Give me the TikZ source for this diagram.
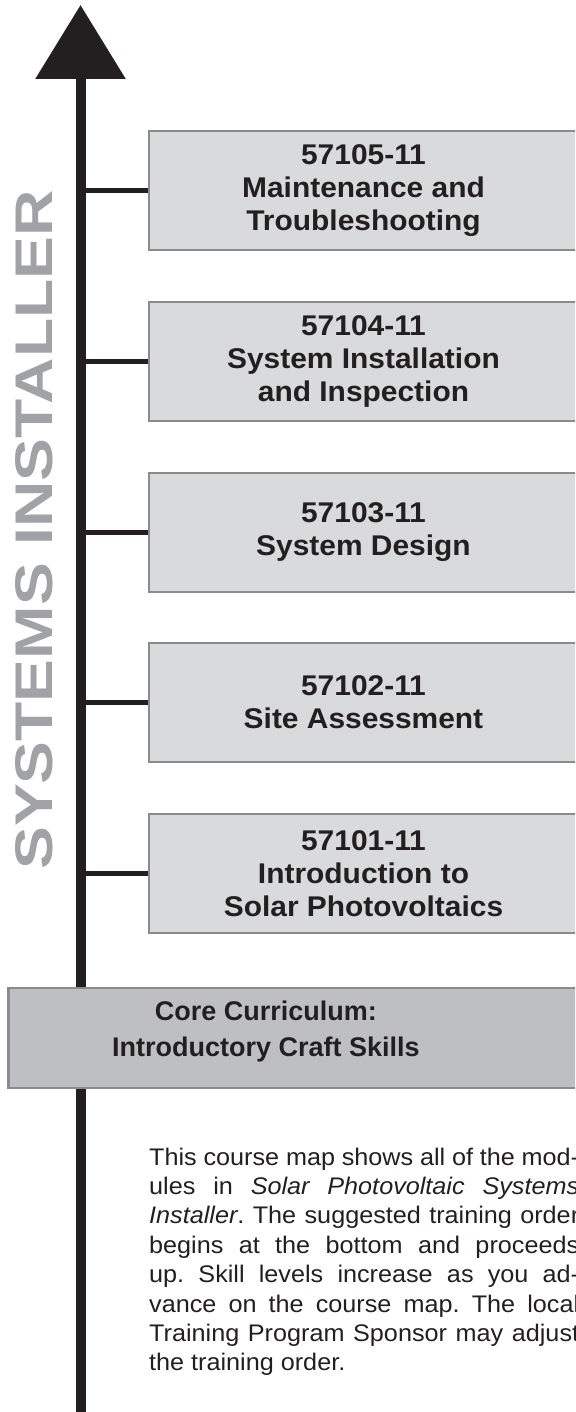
\documentclass[tikz,border=0pt]{standalone}
\usepackage{fontspec}
\setmainfont{Liberation Sans}
\newfontfamily\widefont[FakeStretch=1.05]{Liberation Sans}
\usepackage{xcolor}
\usetikzlibrary{arrows.meta,positioning}

\definecolor{inkblack}{HTML}{231F20}
\definecolor{boxfill}{HTML}{D9DADB}
\definecolor{corefill}{HTML}{BEBFC2}
\definecolor{boxdraw}{HTML}{8A8B8D}
\definecolor{labelgray}{HTML}{A0A2A5}

\begin{document}
\begin{tikzpicture}[
  x=1pt, y=1pt,
  module/.style={rectangle, draw=boxdraw, line width=2.5pt, fill=boxfill,
                 minimum width=429pt, minimum height=119pt, inner sep=0pt,
                 align=center, text=inkblack,
                 font=\widefont\fontsize{28.5}{33}\selectfont\bfseries},
  corebox/.style={rectangle, draw=boxdraw, line width=2.5pt, fill=corefill,
                  minimum width=600pt, minimum height=100pt, inner sep=0pt},
  coretext/.style={align=center, text=inkblack, inner sep=0pt,
                   font=\fontsize{27}{36}\selectfont\bfseries},
  spoke/.style={draw=inkblack, line width=4.5pt},
  spine/.style={draw=inkblack, line width=10pt,
                -{Triangle[length=74pt, width=88pt]}},
]
\useasboundingbox (0,0) rectangle (575,-1412);
\clip (0,0) rectangle (575,-1412);

% the time line
\coordinate (spinebot) at (80.5,-1412);
\coordinate (spinetop) at (80.5,-5);
\draw[spine] (spinebot) -- (spinetop);

\node[rotate=90, text=labelgray, inner sep=0pt,
      font=\fontsize{53}{60}\selectfont\bfseries] (track) at (34,-530)
  {\scalebox{1.21}[1]{SYSTEMS INSTALLER}};

% modules, last one on top
\node[module] (m5) at (363.5,-190.5) {57105-11\\Maintenance and\\Troubleshooting};
\node[module] (m4) at (363.5,-361.5) {57104-11\\System Installation\\and Inspection};
\node[module] (m3) at (363.5,-532.5) {57103-11\\System Design};
\node[module] (m2) at (363.5,-702.5) {57102-11\\Site Assessment};
\node[module] (m1) at (363.5,-873.5) {57101-11\\Introduction to\\Solar Photovoltaics};

\draw[spoke] (m5.west -| spinetop) -- (m5.west);
\draw[spoke] (m4.west -| spinetop) -- (m4.west);
\draw[spoke] (m3.west -| spinetop) -- (m3.west);
\draw[spoke] (m2.west -| spinetop) -- (m2.west);
\draw[spoke] (m1.west -| spinetop) -- (m1.west);

% core curriculum sits over the line
\node[corebox, anchor=west] (core) at (7.25,-1038) {};
\node[coretext] (corelbl) at (266,-1032) {Core Curriculum:\\Introductory Craft Skills};

\node[anchor=north west, inner sep=0pt, text width=430pt, align=justify,
      text=inkblack, font=\widefont\fontsize{24}{29.4}\selectfont\frenchspacing]
      (note) at (149,-1147.5)
  {This course map shows all of the mod-\linebreak ules in \textit{Solar
   Photovoltaic Systems\linebreak Installer}. The suggested training
   order\linebreak begins at the bottom and proceeds\linebreak up. Skill
   levels increase as you ad-\linebreak vance on the course map. The
   local\linebreak Training Program Sponsor may adjust\linebreak the
   training order.};
\end{tikzpicture}
\end{document}
